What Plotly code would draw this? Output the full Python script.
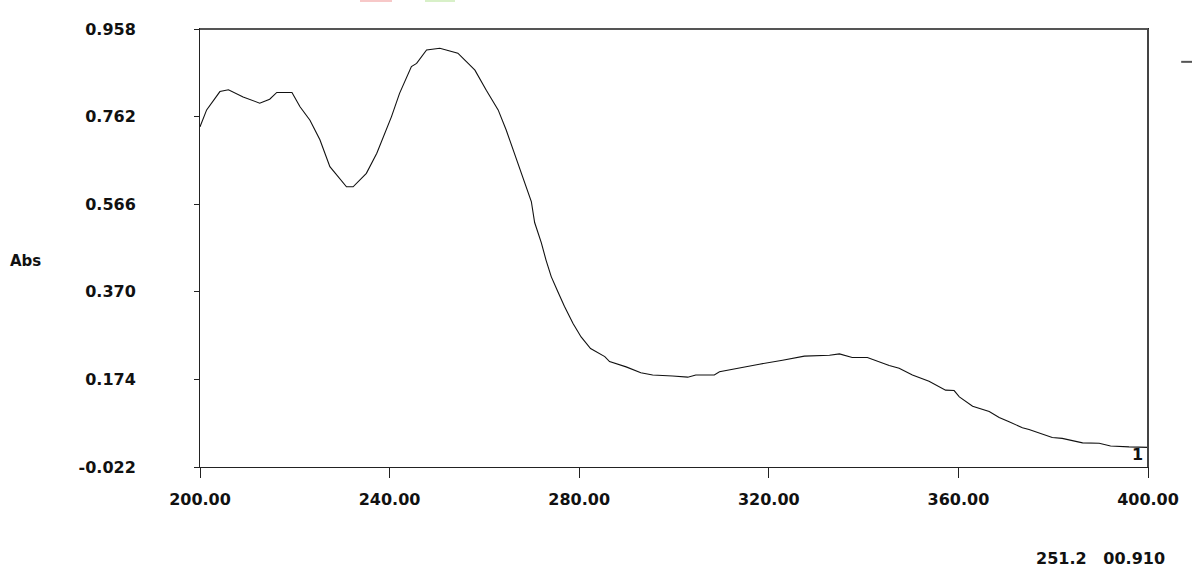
import plotly.graph_objects as go

wavelength = [200.0, 201.4, 204.2, 206.0, 209.1, 212.6, 214.7, 216.2, 219.4, 221.1,
              223.2, 225.3, 227.4, 229.1, 230.9, 232.3, 235.1, 237.3, 240.4, 242.1,
              244.6, 245.7, 247.8, 250.6, 252.0, 254.4, 256.2, 258.0, 260.4, 262.9,
              264.6, 266.0, 267.4, 268.8, 269.9, 270.6, 272.0, 273.0, 274.1, 275.5,
              276.9, 278.7, 280.4, 282.4, 285.4, 286.4, 289.9, 293.0, 295.5, 299.7,
              302.9, 304.6, 308.5, 309.6, 313.8, 318.0, 322.9, 327.5, 332.8, 334.9,
              337.6, 340.8, 345.4, 347.5, 350.3, 353.8, 357.3, 359.1, 360.2, 363.0,
              366.5, 368.6, 370.7, 373.5, 374.9, 377.7, 379.8, 381.9, 384.4, 386.2,
              389.7, 392.1, 396.0, 400.0]
absorbance = [0.739, 0.777, 0.818, 0.822, 0.806, 0.792, 0.801, 0.816, 0.816, 0.784,
              0.754, 0.710, 0.650, 0.628, 0.605, 0.605, 0.635, 0.680, 0.762, 0.814,
              0.874, 0.881, 0.911, 0.915, 0.911, 0.904, 0.885, 0.866, 0.821, 0.777,
              0.732, 0.690, 0.650, 0.605, 0.572, 0.525, 0.480, 0.441, 0.404, 0.370,
              0.337, 0.299, 0.269, 0.243, 0.225, 0.214, 0.202, 0.189, 0.184, 0.1815,
              0.179, 0.184, 0.184, 0.191, 0.200, 0.208, 0.217, 0.226, 0.228, 0.231,
              0.223, 0.223, 0.205, 0.199, 0.184, 0.170, 0.150, 0.149, 0.135, 0.114,
              0.102, 0.089, 0.079, 0.066, 0.062, 0.052, 0.044, 0.042, 0.036, 0.032,
              0.031, 0.025, 0.023, 0.022]

x_ticks = [200, 240, 280, 320, 360, 400]
x_tick_text = ["200.00", "240.00", "280.00", "320.00", "360.00", "400.00"]
y_ticks = [-0.022, 0.174, 0.370, 0.566, 0.762, 0.958]
y_tick_text = ["-0.022", "0.174", "0.370", "0.566", "0.762", "0.958"]

font = dict(family="DejaVu Sans", size=16, color="#111", weight="bold")

fig = go.Figure()
fig.add_trace(go.Scatter(x=wavelength, y=absorbance, mode="lines",
                         line=dict(color="#111", width=1.1), showlegend=False,
                         hoverinfo="skip"))

fig.update_layout(
    width=1192, height=571,
    margin=dict(l=200, r=44, t=29, b=104),
    paper_bgcolor="white", plot_bgcolor="white",
    font=font,
    xaxis=dict(range=[200, 400], tickvals=x_ticks, ticktext=x_tick_text,
               showgrid=False, zeroline=False, showline=True, linecolor="#222",
               linewidth=1, mirror=True, ticks="outside", ticklen=10,
               tickcolor="#222", tickfont=font, ticklabelstandoff=8),
    yaxis=dict(range=[-0.022, 0.958], tickvals=y_ticks, ticktext=y_tick_text,
               showgrid=False, zeroline=False, showline=True, linecolor="#222",
               linewidth=1, mirror=True, ticks="outside", ticklen=5,
               tickcolor="#222", tickfont=font, ticklabelstandoff=55),
)

# thicker grey top / right frame edges
fig.add_shape(type="line", xref="paper", yref="paper", x0=0, x1=1, y0=1, y1=1,
              line=dict(color="#555", width=2))
fig.add_shape(type="line", xref="paper", yref="paper", x0=1, x1=1, y0=0, y1=1,
              line=dict(color="#444", width=2))
# small dash at right edge
fig.add_shape(type="line", xref="paper", yref="paper", x0=1.035, x1=1.05,
              y0=0.925, y1=0.925, line=dict(color="#555", width=2))
# faint clipped marks at top
fig.add_shape(type="rect", xref="paper", yref="paper", x0=(360-200)/948, x1=(392-200)/948,
              y0=1 + 27/438, y1=1 + 29/438, line=dict(width=0), fillcolor="#f7c8c8")
fig.add_shape(type="rect", xref="paper", yref="paper", x0=(425-200)/948, x1=(455-200)/948,
              y0=1 + 27/438, y1=1 + 29/438, line=dict(width=0), fillcolor="#d8f0c8")

fig.add_annotation(text="Abs", xref="paper", yref="paper", x=(8-200)/948, y=(467-261)/438,
                   xanchor="left", yanchor="middle", showarrow=False,
                   font=dict(family="DejaVu Sans", size=15, color="#111", weight="bold"))
fig.add_annotation(text="1", xref="paper", yref="paper", x=0.997, y=0.002,
                   xanchor="right", yanchor="bottom", showarrow=False, font=font)
fig.add_annotation(text="251.2   00.910", xref="paper", yref="paper",
                   x=(1100-200)/948, y=-(558-467)/438, xanchor="center",
                   yanchor="middle", showarrow=False, font=font)

fig.write_html("out.html", config={"displayModeBar": False},
               post_script="document.body.style.margin='0';document.body.style.padding='0';")
